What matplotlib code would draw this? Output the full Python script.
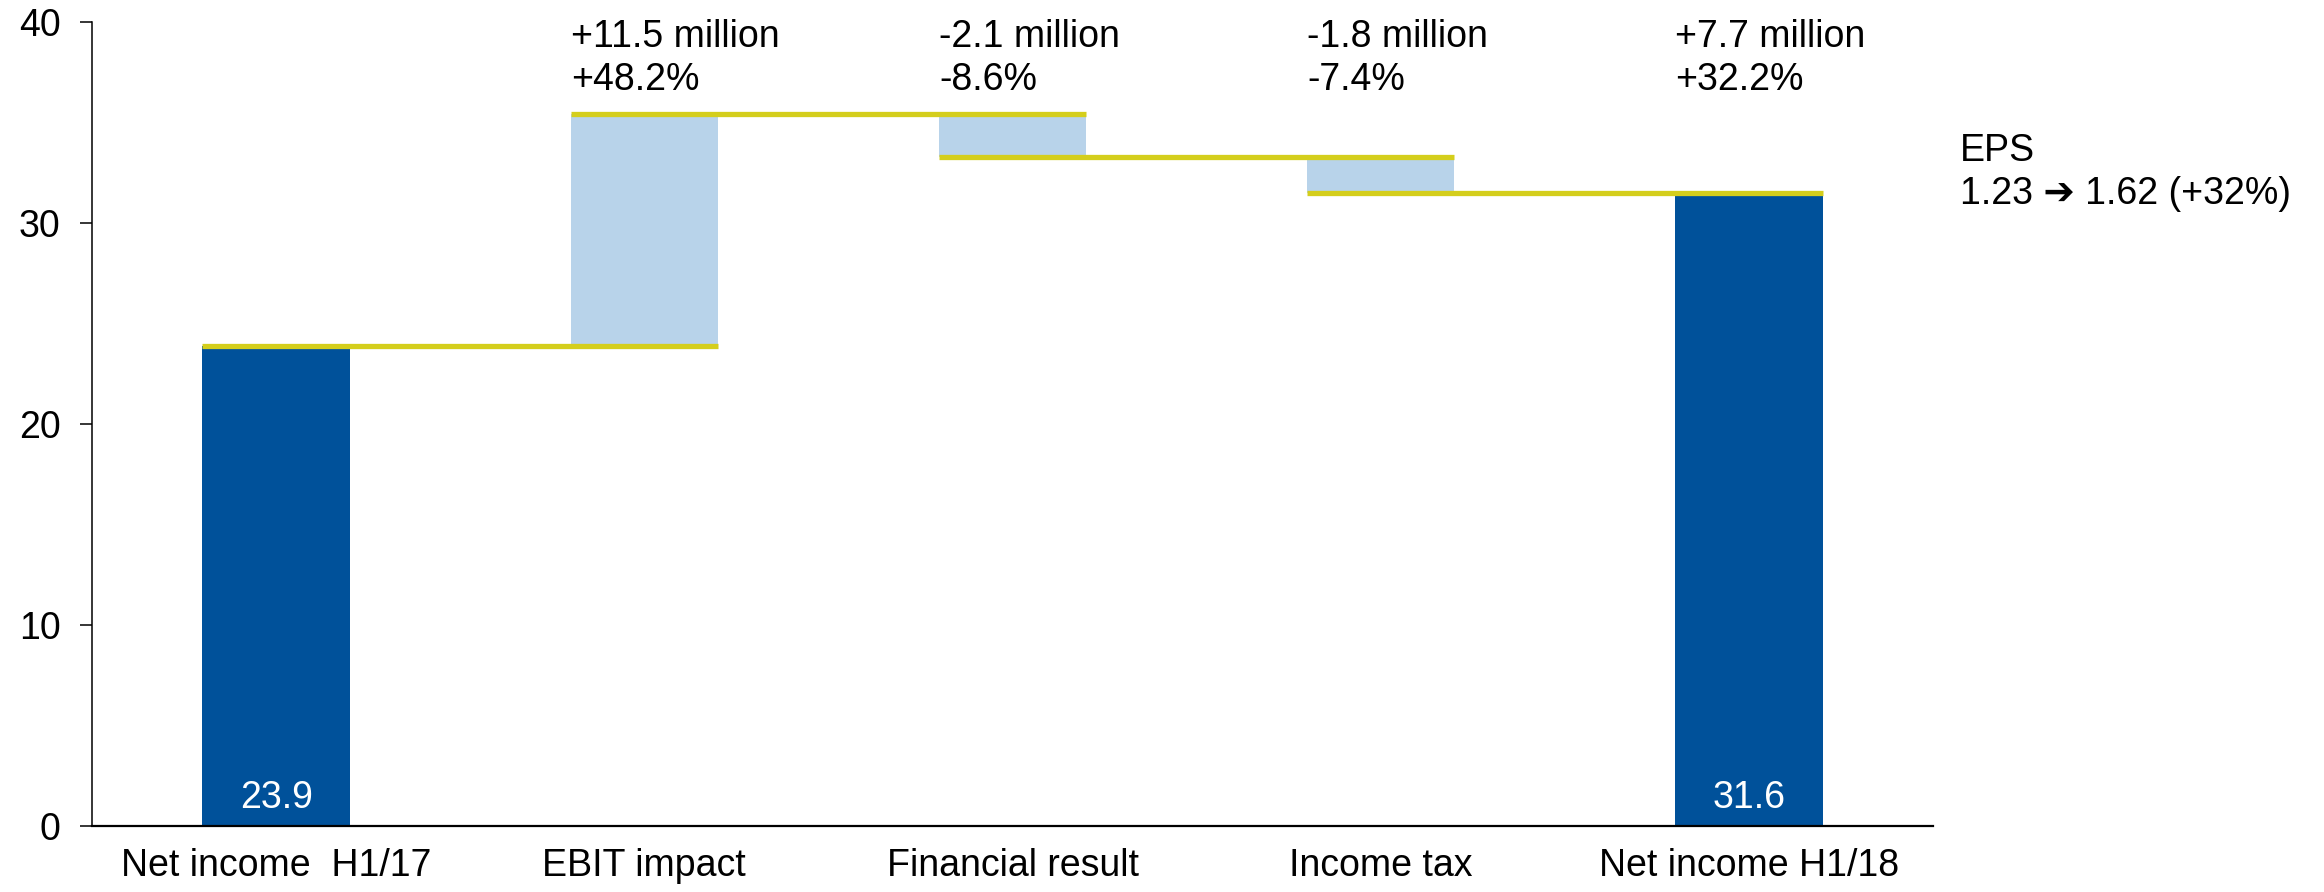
import numpy as np
import matplotlib.pyplot as plt

plt.rcParams['font.family'] = ['Liberation Sans', 'DejaVu Sans']

# data
categories = ['Net income  H1/17', 'EBIT impact', 'Financial result', 'Income tax', 'Net income H1/18']
start_value = 23.9
changes = [11.5, -2.1, -1.8]
end_value = 31.6
change_labels = ['+11.5 million\n+48.2%', '-2.1 million\n-8.6%', '-1.8 million\n-7.4%', '+7.7 million\n+32.2%']
eps_text = 'EPS\n1.23 \u2794 1.62 (+32%)'

dark_blue = '#00519A'
light_blue = '#B8D3EA'
yellow = '#D4CE1C'
fs = 27
w = 0.4

fig = plt.figure(figsize=(23.24, 8.92), dpi=100)
ax = fig.add_axes([0.0396, 0.0740, 0.7922, 0.9013])

x = np.arange(len(categories))

# levels after each step
levels = [start_value]
for c in changes:
    levels.append(levels[-1] + c)

# totals
ax.bar(x[0], start_value, w, color=dark_blue, zorder=2)
ax.bar(x[-1], end_value, w, color=dark_blue, zorder=2)

# floating bars
for i, c in enumerate(changes):
    lo = min(levels[i], levels[i + 1])
    ax.bar(x[i + 1], abs(c), w, bottom=lo, color=light_blue, zorder=2)

# connector lines
for i in range(len(levels)):
    ax.plot([x[i] - w / 2, x[i + 1] + w / 2], [levels[i], levels[i]],
            color=yellow, lw=3.8, solid_capstyle='butt', zorder=3)

# value labels inside total bars
ax.text(x[0], 0.9, '%.1f' % start_value, color='white', fontsize=fs,
        ha='center', va='baseline', zorder=4)
ax.text(x[-1], 0.9, '%.1f' % end_value, color='white', fontsize=fs,
        ha='center', va='baseline', zorder=4)

# change annotations (baseline = last line)
for i, lab in enumerate(change_labels):
    ax.text(x[i + 1] - w / 2, 36.6, lab, fontsize=fs, ha='left', va='baseline',
            linespacing=1.28)

ax.text(4.572, 30.95, eps_text, fontsize=fs, ha='left', va='baseline',
        linespacing=1.25, clip_on=False)

ax.set_xlim(-0.5, 4.5)
ax.set_ylim(0, 40)
ax.set_yticks([0, 10, 20, 30, 40])
ax.set_xticks(x)
ax.set_xticklabels(categories)
ax.tick_params(axis='y', length=8.6, width=1.1, pad=14, labelsize=fs)
ax.tick_params(axis='x', length=0, pad=16, labelsize=fs)
ax.spines['top'].set_visible(False)
ax.spines['right'].set_visible(False)
ax.spines['left'].set_linewidth(1.1)
ax.spines['bottom'].set_linewidth(1.6)

fig.savefig('out.png', dpi=100)
